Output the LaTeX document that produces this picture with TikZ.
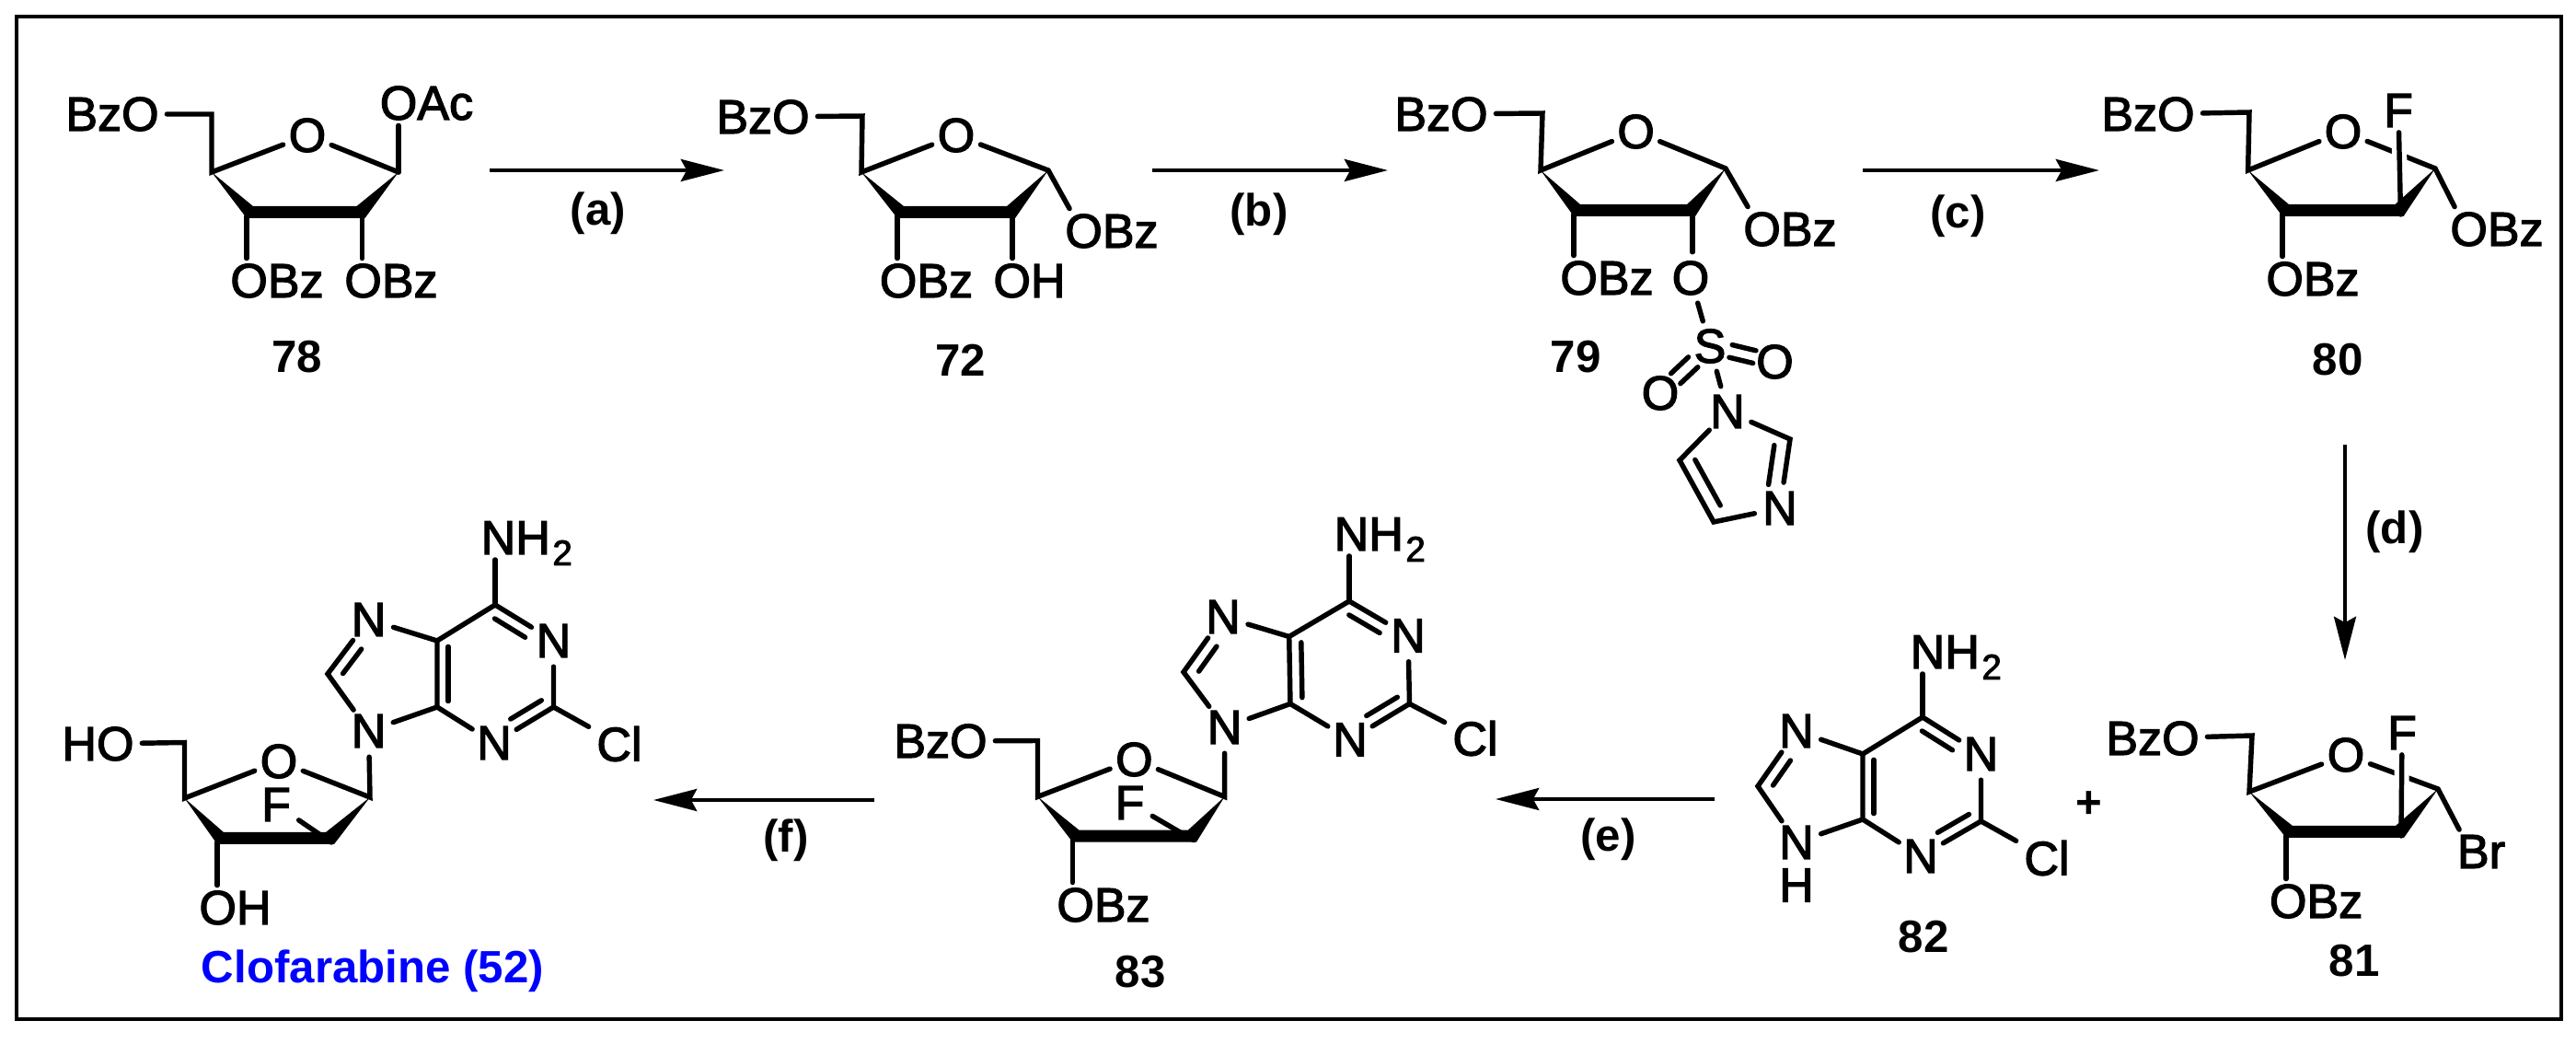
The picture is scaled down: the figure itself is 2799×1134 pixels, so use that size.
\documentclass[tikz,border=0pt]{standalone}
\usepackage{fontspec}
\setmainfont{Liberation Sans}
\newfontfamily\atomfont[FakeBold=2.4]{Liberation Sans}
\usetikzlibrary{arrows.meta,calc}

\newcommand{\nhtwo}{NH\kern.7pt\smash{\raisebox{-3.4pt}{\fontsize{11}{12}\selectfont 2}}}
\newcommand{\innerbond}[5]{\draw[bond] ($(#1)!#4!(#2)!#3!90:(#2)$) -- ($(#1)!#5!(#2)!#3!90:(#2)$);}
\newcommand{\ringwedge}[4]{\fill ($(#1)$) -- ($(#2)+(7,-11)$) -- ($(#3)+(-6,-11)$) -- ($(#4)$)
  -- ($(#3)+(3,2)$) -- ($(#2)+(0,2)$) -- cycle;}

\tikzset{
  bond/.style={line width=1.55pt, line cap=round, line join=miter},
  halo/.style={white, line width=4.6pt},
  atom/.style={circle, minimum size=.55cm, inner sep=0pt, font=\atomfont\fontsize{14.8}{16}\selectfont},
  grp/.style={rectangle, inner xsep=2.3pt, inner ysep=1.5pt, font=\atomfont\fontsize{14.8}{16}\selectfont},
  nhgrp/.style={grp, inner xsep=0pt, anchor=base west},
  cmpd/.style={inner sep=0pt, font=\bfseries\fontsize{14}{16}\selectfont},
  rxn/.style={line width=1.25pt, -{Stealth[length=13.4pt,width=6.8pt,inset=1.8pt]}},
}

\begin{document}
\begin{tikzpicture}[x=0.01cm,y=-0.01cm]
  \useasboundingbox (0,0) rectangle (2799,1134);
  \draw[line width=1.14pt] (18,18) rectangle (2783,1107);

  % 78
  \node[grp] (m78bzo) at (122,124) {BzO};
  \coordinate (m78ch2) at (230,124);
  \coordinate (m78c4) at (230,187);
  \node[atom] (m78o) at (334,147) {O};
  \coordinate (m78c1) at (433,187);
  \coordinate (m78c2) at (393.5,235);
  \coordinate (m78c3) at (268,235);
  \node[grp] (m78oac) at (463.5,112) {OAc};
  \node[grp] (m78obza) at (301,305) {OBz};
  \node[grp] (m78obzb) at (425,305) {OBz};
  \node[cmpd] (m78lab) at (323,388) {78};
  \draw[bond] (m78bzo) -- (m78ch2) -- (m78c4) -- (m78o) -- (m78c1);
  \draw[bond] (m78c1) -- (m78c1 |- m78oac.south);
  \draw[bond] (m78c3) -- (m78c3 |- m78obza.north);
  \draw[bond] (m78c2) -- (m78c2 |- m78obzb.north);
  \ringwedge{m78c4}{m78c3}{m78c2}{m78c1}

  % 72
  \node[grp] (m72bzo) at (829,127) {BzO};
  \coordinate (m72ch2) at (937,126);
  \coordinate (m72c4) at (936,187);
  \node[atom] (m72o) at (1039,147) {O};
  \coordinate (m72c1) at (1139,185);
  \coordinate (m72c2) at (1100,235);
  \coordinate (m72c3) at (975,235);
  \node[grp] (m72obzc) at (1208,251) {OBz};
  \node[grp] (m72obza) at (1006.5,305) {OBz};
  \node[grp] (m72oh) at (1118.5,305) {OH};
  \node[cmpd] (m72lab) at (1043.5,391) {72};
  \draw[bond] (m72bzo) -- (m72ch2) -- (m72c4) -- (m72o) -- (m72c1);
  \draw[bond] (m72c1) -- (m72obzc.152);
  \draw[bond] (m72c3) -- (m72c3 |- m72obza.north);
  \draw[bond] (m72c2) -- (m72c2 |- m72oh.north);
  \ringwedge{m72c4}{m72c3}{m72c2}{m72c1}

  % 79
  \node[grp] (m79bzo) at (1566,124) {BzO};
  \coordinate (m79ch2) at (1676,123);
  \coordinate (m79c4) at (1674,185);
  \node[atom] (m79o) at (1777.6,143) {O};
  \coordinate (m79c1) at (1875,183);
  \coordinate (m79c2) at (1839,233);
  \coordinate (m79c3) at (1710,233);
  \node[grp] (m79obzc) at (1945,249) {OBz};
  \node[grp] (m79obza) at (1746,302) {OBz};
  \node[atom] (m79ob) at (1837,302) {O};
  \node[atom] (m79s) at (1858,376) {S};
  \node[atom] (m79oc) at (1928.5,393) {O};
  \node[atom] (m79od) at (1804,427) {O};
  \node[atom] (m79na) at (1877,447) {N};
  \coordinate (m79ib) at (1945,477);
  \node[atom] (m79nc) at (1934,552) {N};
  \coordinate (m79id) at (1862,567);
  \coordinate (m79ie) at (1825,500);
  \node[cmpd] (m79lab) at (1712,388) {79};
  \draw[bond] (m79bzo) -- (m79ch2) -- (m79c4) -- (m79o) -- (m79c1);
  \draw[bond] (m79c1) -- (m79obzc.152);
  \draw[bond] (m79c3) -- (m79c3 |- m79obza.north);
  \draw[bond] (m79c2) -- (m79c2 |- m79ob.north);
  \ringwedge{m79c4}{m79c3}{m79c2}{m79c1}
  \draw[bond] (m79ob) -- (m79s);
  \draw[bond] (m79s) -- (m79na);
  \innerbond{m79s}{m79oc}{.07cm}{.32}{.685}
  \innerbond{m79s}{m79oc}{-.07cm}{.32}{.685}
  \innerbond{m79s}{m79od}{.075cm}{.34}{.69}
  \innerbond{m79s}{m79od}{-.075cm}{.34}{.69}
  \draw[bond] (m79nc) -- (m79ib) -- (m79na) -- (m79ie) -- (m79id) -- (m79nc);
  \innerbond{m79ib}{m79nc}{-.16cm}{.12}{.69}
  \innerbond{m79ie}{m79id}{.15cm}{.1}{.84}

  % 80
  \node[grp] (m80bzo) at (2334,124) {BzO};
  \coordinate (m80ch2) at (2444,122);
  \coordinate (m80c4) at (2442.6,185);
  \node[atom] (m80o) at (2546,143) {O};
  \coordinate (m80c1) at (2646,183);
  \coordinate (m80c2) at (2608.5,233);
  \coordinate (m80c3) at (2480,233);
  \node[grp] (m80f) at (2606,120) {F};
  \node[grp] (m80obzc) at (2713,249) {OBz};
  \node[grp] (m80obza) at (2513,303) {OBz};
  \node[cmpd] (m80lab) at (2540,391) {80};
  \draw[bond] (m80bzo) -- (m80ch2) -- (m80c4) -- (m80o) -- (m80c1);
  \draw[bond] (m80c1) -- (m80obzc.152);
  \draw[bond] (m80c3) -- (m80c3 |- m80obza.north);
  \draw[halo] (m80f) -- (m80c2);
  \draw[bond] (m80f) -- (m80c2);
  \ringwedge{m80c4}{m80c3}{m80c2}{m80c1}

  % 81
  \node[grp] (m81bzo) at (2339,802) {BzO};
  \coordinate (m81ch2) at (2447,799);
  \coordinate (m81c4) at (2444,860);
  \node[atom] (m81o) at (2549,820) {O};
  \coordinate (m81c1) at (2649,857);
  \coordinate (m81c2) at (2609,908);
  \coordinate (m81c3) at (2484,908);
  \node[grp] (m81f) at (2610,796) {F};
  \node[grp] (m81br) at (2696,925) {Br};
  \node[grp] (m81obza) at (2516.6,979) {OBz};
  \node[cmpd] (m81lab) at (2558,1044) {81};
  \node[cmpd] (plus) at (2270,874) {+};
  \draw[bond] (m81bzo) -- (m81ch2) -- (m81c4) -- (m81o) -- (m81c1);
  \draw[bond] (m81c1) -- (m81br.135);
  \draw[bond] (m81c3) -- (m81c3 |- m81obza.north);
  \draw[halo] (m81f) -- (m81c2);
  \draw[bond] (m81f) -- (m81c2);
  \ringwedge{m81c4}{m81c3}{m81c2}{m81c1}

  % 82
  \node[nhgrp] (m82nh) at (2075,726) {\nhtwo};
  \coordinate (m82c6) at (2089,779);
  \node[atom] (m82na) at (2152.5,819) {N};
  \coordinate (m82c2) at (2152.5,892);
  \node[atom] (m82nc) at (2087,930) {N};
  \coordinate (m82c4) at (2024,890);
  \coordinate (m82c5) at (2024,819);
  \node[atom] (m82ng) at (1952,794) {N};
  \coordinate (m82c8) at (1910,854);
  \node[atom] (m82ni) at (1952,915) {N};
  \node[grp,inner sep=0pt] (m82h) at (1952,961.5) {H};
  \node[grp] (m82cl) at (2224,932) {Cl};
  \node[cmpd] (m82lab) at (2090,1018) {82};
  \draw[bond] (m82c6) -- (m82c6 |- m82nh.south);
  \draw[bond] (m82c5) -- (m82c6) -- (m82na) -- (m82c2) -- (m82nc) -- (m82c4) -- (m82c5);
  \draw[bond] (m82c5) -- (m82ng) -- (m82c8) -- (m82ni) -- (m82c4);
  \draw[bond] (m82c2) -- (m82cl);
  \innerbond{m82c6}{m82na}{-.13cm}{.1}{.62}
  \innerbond{m82c2}{m82nc}{-.13cm}{.1}{.62}
  \innerbond{m82c5}{m82c4}{.12cm}{.09}{.91}
  \innerbond{m82ng}{m82c8}{.13cm}{.41}{.86}

  % 83
  \node[nhgrp] (m83nh) at (1449,598) {\nhtwo};
  \coordinate (m83c6) at (1466,653);
  \node[atom] (m83na) at (1530,690.5) {N};
  \coordinate (m83c2) at (1531.5,764.5);
  \node[atom] (m83nc) at (1467,803.4) {N};
  \coordinate (m83c4) at (1402,764.5);
  \coordinate (m83c5) at (1400.7,691.5);
  \node[atom] (m83ng) at (1329,670) {N};
  \coordinate (m83c8) at (1286,730);
  \node[atom] (m83ni) at (1330.6,790) {N};
  \node[grp] (m83cl) at (1603,802) {Cl};
  \node[grp] (m83bzo) at (1022,805) {BzO};
  \coordinate (m83ch2) at (1127.5,804.5);
  \coordinate (m83d4) at (1127.5,865.4);
  \node[atom] (m83o) at (1232.4,825) {O};
  \coordinate (m83d1) at (1330.6,865.4);
  \coordinate (m83d2) at (1297,912.6);
  \coordinate (m83d3) at (1165.4,912.6);
  \node[grp,inner ysep=0pt] (m83f) at (1227.5,872) {F};
  \node[grp] (m83obza) at (1199,983) {OBz};
  \node[cmpd] (m83lab) at (1239,1056) {83};
  \draw[bond] (m83c6) -- (m83c6 |- m83nh.south);
  \draw[bond] (m83c5) -- (m83c6) -- (m83na) -- (m83c2) -- (m83nc) -- (m83c4) -- (m83c5);
  \draw[bond] (m83c5) -- (m83ng) -- (m83c8) -- (m83ni) -- (m83c4);
  \draw[bond] (m83c2) -- (m83cl);
  \innerbond{m83c6}{m83na}{-.13cm}{.1}{.62}
  \innerbond{m83c2}{m83nc}{-.13cm}{.1}{.62}
  \innerbond{m83c5}{m83c4}{.13cm}{.09}{.91}
  \innerbond{m83ng}{m83c8}{.13cm}{.41}{.86}
  \draw[bond] (m83bzo) -- (m83ch2) -- (m83d4) -- (m83o) -- (m83d1) -- (m83ni);
  \draw[bond] (m83f) -- (m83d2);
  \draw[bond] (m83d3) -- (m83d3 |- m83obza.north);
  \ringwedge{m83d4}{m83d3}{m83d2}{m83d1}

  % 52
  \node[nhgrp] (m52nh) at (522,602) {\nhtwo};
  \coordinate (m52c6) at (538,657);
  \node[atom] (m52na) at (601.5,696) {N};
  \coordinate (m52c2) at (601.5,768);
  \node[atom] (m52nc) at (537,807) {N};
  \coordinate (m52c4) at (475,768);
  \coordinate (m52c5) at (475,696);
  \node[atom] (m52ng) at (400.6,673) {N};
  \coordinate (m52c8) at (356,732);
  \node[atom] (m52ni) at (400.6,794) {N};
  \node[grp] (m52cl) at (673,808) {Cl};
  \node[grp] (m52ho) at (106.5,808) {HO};
  \coordinate (m52ch2) at (200.5,806.5);
  \coordinate (m52d4) at (200.5,867);
  \node[atom] (m52o) at (303,827) {O};
  \coordinate (m52d1) at (402,866);
  \coordinate (m52d2) at (360,915);
  \coordinate (m52d3) at (236,915);
  \node[grp,inner ysep=0pt] (m52f) at (300,874) {F};
  \node[grp] (m52oh) at (255.5,986) {OH};
  \node[cmpd,text={rgb,255:red,0;green,0;blue,255}] (m52lab) at (405,1055) {Clofarabine (52)};
  \draw[bond] (m52c6) -- (m52c6 |- m52nh.south);
  \draw[bond] (m52c5) -- (m52c6) -- (m52na) -- (m52c2) -- (m52nc) -- (m52c4) -- (m52c5);
  \draw[bond] (m52c5) -- (m52ng) -- (m52c8) -- (m52ni) -- (m52c4);
  \draw[bond] (m52c2) -- (m52cl);
  \innerbond{m52c6}{m52na}{-.13cm}{.1}{.62}
  \innerbond{m52c2}{m52nc}{-.13cm}{.1}{.62}
  \innerbond{m52c5}{m52c4}{.12cm}{.09}{.91}
  \innerbond{m52ng}{m52c8}{.13cm}{.41}{.86}
  \draw[bond] (m52ho) -- (m52ch2) -- (m52d4) -- (m52o) -- (m52d1) -- (m52ni);
  \draw[bond] (m52f) -- (m52d2);
  \draw[bond] (m52d3) -- (m52d3 |- m52oh.north);
  \ringwedge{m52d4}{m52d3}{m52d2}{m52d1}

  % arrows
  \coordinate (aa) at (532,185);
  \coordinate (ab) at (787,185);
  \coordinate (ba) at (1252,185);
  \coordinate (bb) at (1508,185);
  \coordinate (ca) at (2024,185);
  \coordinate (cb) at (2281,185);
  \coordinate (da) at (2548,483);
  \coordinate (db) at (2548,717);
  \coordinate (ea) at (1863,868);
  \coordinate (eb) at (1625,868);
  \coordinate (fa) at (950,869);
  \coordinate (fb) at (710,869);
  \draw[rxn] (aa) -- (ab);
  \draw[rxn] (ba) -- (bb);
  \draw[rxn] (ca) -- (cb);
  \draw[rxn] (da) -- (db);
  \draw[rxn] (ea) -- (eb);
  \draw[rxn] (fa) -- (fb);
  \node[cmpd] (stepa) at (650,232) {(a)};
  \node[cmpd] (stepb) at (1368,233) {(b)};
  \node[cmpd] (stepc) at (2127.5,235) {(c)};
  \node[cmpd] (stepd) at (2602,578) {(d)};
  \node[cmpd] (stepe) at (1747.5,912) {(e)};
  \node[cmpd] (stepf) at (854,913) {(f)};
\end{tikzpicture}
\end{document}
